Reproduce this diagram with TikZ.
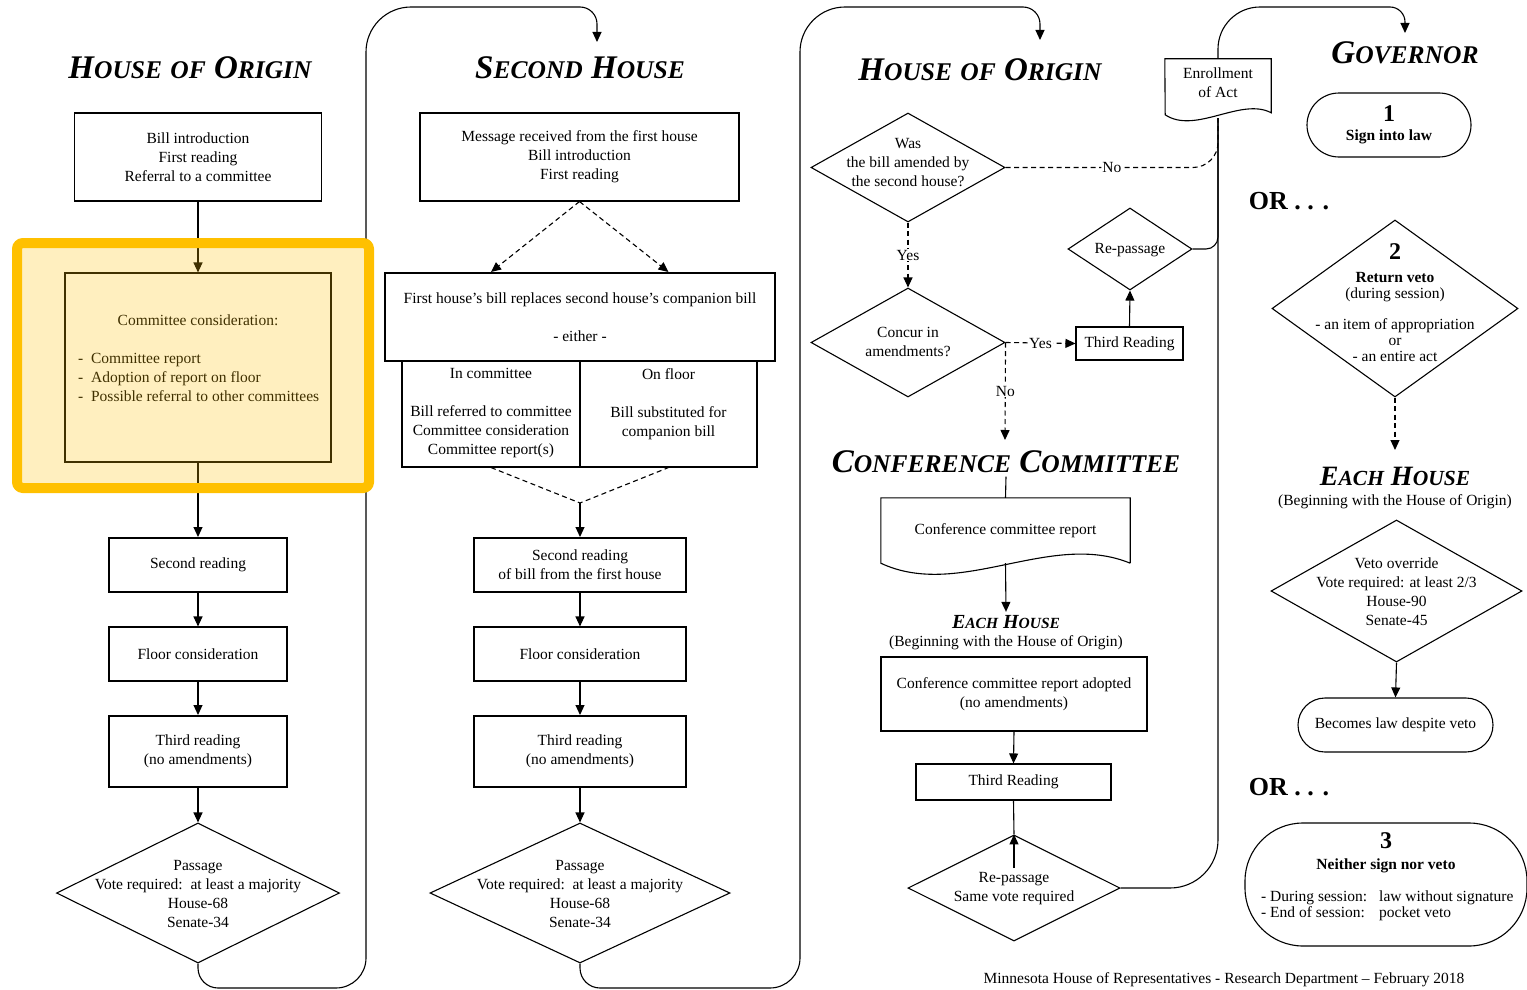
\documentclass[tikz,border=0pt]{standalone}
\usepackage{fontspec}
\setmainfont{Liberation Serif}
\usetikzlibrary{shapes.geometric,arrows.meta}
\definecolor{hilite}{HTML}{FFC000}
\newcommand{\lcsize}{25.5}
\newcommand{\lc}[1]{{\fontsize{\lcsize}{\lcsize}\selectfont #1}}
\begin{document}
\begin{tikzpicture}
[x=1pt, y=-1pt, >={Triangle[length=10pt,width=9pt]},
every node/.style={align=center, font=\fontsize{15.5}{19}\selectfont},
txt/.style={inner sep=0pt},
box/.style={draw, line width=1.1pt, inner sep=0pt},
hbox/.style={draw, line width=2pt, inner sep=0pt},
dia/.style={draw, shape=diamond, line width=1.1pt, inner sep=0pt},
pill/.style={draw, line width=1.1pt, inner sep=0pt},
ln/.style={line width=1.1pt},
dsh/.style={line width=1.1pt, dash pattern=on 5pt off 3.5pt},
lbl/.style={fill=white, inner sep=1pt},
ttl/.style={font=\fontsize{33}{33}\selectfont\bfseries\itshape},
ttlm/.style={font=\fontsize{28}{28}\selectfont\bfseries\itshape\renewcommand{\lcsize}{21.5}},
ttls/.style={font=\fontsize{20}{20}\selectfont\bfseries\itshape\renewcommand{\lcsize}{15.5}},
orr/.style={font=\fontsize{26}{26}\selectfont\bfseries}]
\useasboundingbox (0,0) rectangle (1527,990);

\node[ttl] (ttl1) at (190,68) {H\lc{OUSE} \lc{OF} O\lc{RIGIN}};
\node[box, minimum width=247, minimum height=88] (intro1) at (198,157) {Bill introduction\\First reading\\Referral to a committee};
\node[box, minimum width=266, minimum height=189] (comm1) at (198,367.5) {};
\node[txt] (comm1h) at (198,320) {Committee consideration:};
\node[txt, anchor=west, align=left] (comm1l) at (78,377) {-\ \ Committee report\\-\ \ Adoption of report on floor\\-\ \ Possible referral to other committees};
\node[hbox, minimum width=178, minimum height=54] (read2a) at (198,565) {Second reading};
\node[box, minimum width=178, minimum height=54] (floor1) at (198,654) {Floor consideration};
\node[hbox, minimum width=178, minimum height=71] (read3a) at (198,751.5) {Third reading\\(no amendments)};
\node[dia, minimum width=283, minimum height=140] (pass1) at (198,893) {};
\node[txt] (pass1t) at (198,894) {Passage\\Vote required:\ \ at least a majority\\House-68\\Senate-34};
\coordinate (in2) at (597,42);

\node[ttl] (ttl2) at (580,68) {S\lc{ECOND} H\lc{OUSE}};
\node[box, minimum width=319, minimum height=88] (msg2) at (579.5,157) {Message received from the first house\\Bill introduction\\First reading};
\node[hbox, minimum width=390, minimum height=88] (repl2) at (580,317) {First house's bill replaces second house's companion bill\\[19pt]- either -};
\node[box, minimum width=178, minimum height=106] (comm2) at (491,414) {};
\node[box, minimum width=177, minimum height=106] (floor2) at (668.5,414) {};
\node[txt, anchor=north] (comm2t) at (491,368) {In committee\\[19pt]Bill referred to committee\\Committee consideration\\Committee report(s)};
\node[txt, anchor=north] (floor2t) at (668.5,368) {On floor\\[19pt]Bill substituted for\\companion bill};
\coordinate (join2) at (580,503);
\node[hbox, minimum width=212, minimum height=54] (read2b) at (580,565) {Second reading\\of bill from the first house};
\node[box, minimum width=212, minimum height=54] (floor2b) at (580,654) {Floor consideration};
\node[hbox, minimum width=212, minimum height=71] (read3b) at (580,751.5) {Third reading\\(no amendments)};
\node[dia, minimum width=300, minimum height=140] (pass2) at (580,893) {};
\node[txt] (pass2t) at (580,894) {Passage\\Vote required:\ \ at least a majority\\House-68\\Senate-34};
\coordinate (in3) at (1040,40);

\node[ttl] (ttl3) at (980,70) {H\lc{OUSE} \lc{OF} O\lc{RIGIN}};
\node[dia, minimum width=194, minimum height=109] (amend3) at (908,167.5) {};
\node[txt] (amend3t) at (908,163) {Was\\the bill amended by\\the second house?};
\node[dia, minimum width=194, minimum height=109] (concur3) at (908,342.5) {};
\node[txt] (concur3t) at (908,342) {Concur in\\amendments?};
\node[box, minimum width=107, minimum height=33] (tr3) at (1129.5,343.5) {Third Reading};
\node[dia, minimum width=124, minimum height=82] (rp3) at (1130,249) {};
\node[txt] (rp3t) at (1130,250) {Re-passage};
\coordinate (cc4) at (1005,440);
\node[ttl] (ttl4) at (1006,462) {C\lc{ONFERENCE} C\lc{OMMITTEE}};
\node[txt, minimum width=249, minimum height=65] (ccr) at (1005.5,530.5) {Conference committee report};
\node[ttls] (ttl5) at (1006,622) {E\lc{ACH} H\lc{OUSE}};
\node (beg5) at (1006,643) {(Beginning with the House of Origin)};
\node[box, minimum width=266, minimum height=74] (adopt5) at (1014,694) {Conference committee report adopted\\(no amendments)};
\node[box, minimum width=195, minimum height=36] (tr5) at (1013.5,782) {Third Reading};
\node[dia, minimum width=212, minimum height=106] (rp5) at (1014,888) {};
\node[txt] (rp5t) at (1014,889) {Re-passage\\Same vote required};
\coordinate (rp5in) at (1014,868);
\node[txt, minimum width=106, minimum height=48] (enr) at (1218,83) {Enrollment\\of Act};
\coordinate (enrb) at (1218,118);
\coordinate (in6) at (1405,33);

\node[ttl] (ttl6) at (1405,53) {G\lc{OVERNOR}};
\node[pill, minimum width=164, minimum height=64, rounded corners=32] (sign) at (1389,125) {{\fontsize{24}{24}\selectfont\bfseries 1}\\\textbf{Sign into law}};
\node[orr] (or1) at (1289,201) {OR . . .};
\node[dia, minimum width=246, minimum height=177] (ret) at (1395,308.5) {};
\node[txt, font=\fontsize{15.5}{16}\selectfont] (rett) at (1395,303) {{\fontsize{24}{24}\selectfont\bfseries 2}\\[7pt]\textbf{Return veto}\\(during session)\\[15pt]- an item of appropriation\\or\\- an entire act};
\coordinate (eh7in) at (1395,450);
\node[ttlm] (ttl7) at (1395,476) {E\lc{ACH} H\lc{OUSE}};
\node (beg7) at (1395,502) {(Beginning with the House of Origin)};
\node[dia, minimum width=251, minimum height=142] (ovr) at (1396.5,591) {};
\node[txt] (ovrt) at (1396.5,592) {Veto override\\Vote required: at least 2/3\\House-90\\Senate-45};
\node[pill, minimum width=195, minimum height=54, rounded corners=27] (becomes) at (1395.5,725) {Becomes law despite veto};
\node[orr] (or2) at (1289,787) {OR . . .};
\node[pill, minimum width=282, minimum height=123, rounded corners=58] (neither) at (1386,884.5) {};
\node[txt] (neith) at (1386,853) {{\fontsize{24}{24}\selectfont\bfseries 3}\\[2pt]\textbf{Neither sign nor veto}};
\node[txt, anchor=west, align=left, font=\fontsize{15.5}{16}\selectfont] (neitl) at (1261,906) {\makebox[118pt][l]{- During session:}law without signature\\\makebox[118pt][l]{- End of session:}pocket veto};
\node[txt] (foot) at (1224,980) {Minnesota House of Representatives - Research Department -- February 2018};

\draw[ln,->] (intro1.south) -- (comm1.north);
\draw[ln,->] (comm1.south) -- (read2a.north);
\draw[ln,->] (read2a) -- (floor1);
\draw[ln,->] (floor1) -- (read3a);
\draw[ln,->] (read3a.south) -- (pass1.north);
\draw[ln,->] (pass1.south) [rounded corners=20] -- (198,988) [rounded corners=30] -- (366,988) [rounded corners=45] -- (366,7) [rounded corners=17] -- (597,7) -- (in2);

\draw[dsh,->] (msg2.south) -- (repl2.north -| comm2);
\draw[dsh,->] (msg2.south) -- (repl2.north -| floor2);
\draw[dsh] (comm2.south) -- (join2) -- (floor2.south);
\draw[ln,->] (join2) -- (read2b.north);
\draw[ln,->] (read2b) -- (floor2b);
\draw[ln,->] (floor2b) -- (read3b);
\draw[ln,->] (read3b.south) -- (pass2.north);
\draw[ln,->] (pass2.south) [rounded corners=20] -- (580,988) [rounded corners=30] -- (800,988) [rounded corners=45] -- (800,7) [rounded corners=17] -- (1040,7) -- (in3);

\draw[dsh] (amend3.east) [rounded corners=25] -- node[lbl]{No} (amend3.east -| enrb) -- (enrb);
\draw[dsh,->] (amend3.south) -- node[lbl]{Yes} (concur3.north);
\draw[dsh,->] (concur3.east) -- node[lbl]{Yes} (tr3.west);
\draw[dsh,->] (concur3.east) -- node[lbl]{No} (cc4);
\draw[ln,->] (tr3.north) -- (rp3.south);
\draw[ln] (rp3.east) [rounded corners=12] -- (rp3.east -| enrb) -- (enrb);
\draw[ln] (ttl4.south) -- (ccr.north);
\draw[ln] (ccr.south east) -- (ccr.north east) -- (ccr.north west) -- (ccr.south west) .. controls +(79,37) and +(-80,-33) .. (ccr.south east);
\draw[ln,->] (ccr.south) -- (ttl5.north);
\draw[ln,->] (adopt5.south) -- (tr5.north);
\draw[ln] (tr5.south) -- (rp5.north);
\draw[ln,->] (rp5in) -- (rp5.north);
\draw[ln] (rp5.east) [rounded corners=48] -- (rp5.east -| enrb) -- (enrb);
\draw[ln] (enr.north west) -- (enr.north east) -- ++(0,54) .. controls +(-30,-16) and +(30,20) .. ++(-106,2) -- cycle;
\draw[ln,->] (enr.north) [rounded corners=42] -- (1218,7) [rounded corners=15] -- (1405,7) -- (in6);

\draw[dsh,->] (ret.south) -- (eh7in);
\draw[ln,->] (ovr.south) -- (becomes.north);

\draw[line width=10, draw=hilite, fill=hilite, fill opacity=.25, rounded corners=6] (17,243) rectangle (369,488);
\end{tikzpicture}
\end{document}
